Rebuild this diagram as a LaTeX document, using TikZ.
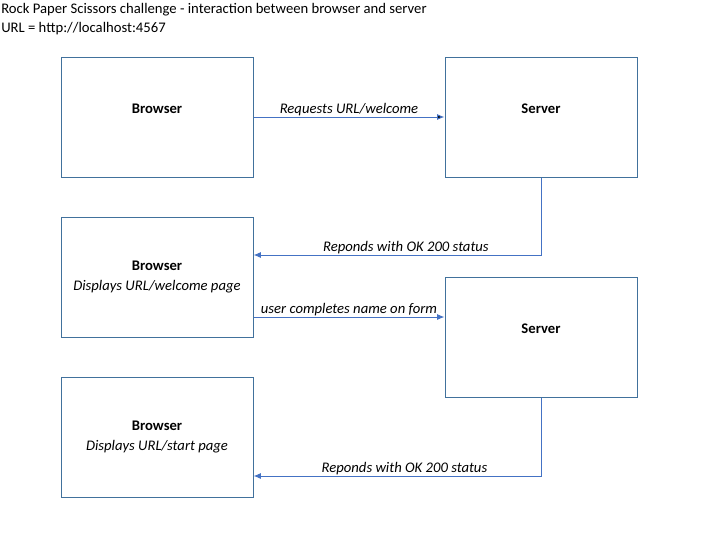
\documentclass[tikz,border=0pt]{standalone}
\usepackage{fontspec}
\setmainfont{Carlito}
\usetikzlibrary{arrows.meta}
\definecolor{boxline}{HTML}{41719C}
\definecolor{arrowline}{HTML}{4472C4}
\begin{document}
\begin{tikzpicture}[x=0.75pt,y=-0.75pt,
    every node/.style={font=\fontsize{11pt}{15pt}\selectfont},
    party/.style={rectangle,draw=boxline,line width=0.75pt,minimum width=144pt,minimum height=90pt,align=center},
    msg/.style={draw=arrowline,line width=0.75pt,-{Latex[length=5.5pt,width=4.5pt]}},
    lbl/.style={above,inner sep=0.5pt,font=\fontsize{11pt}{15pt}\selectfont\itshape}]
            \useasboundingbox (0,0) rectangle (706,557);
            \node[anchor=base west,inner sep=0pt] (title) at (1,13) {Rock Paper Scissors challenge - interaction between browser and server};
            \node[anchor=base west,inner sep=0pt] (url) at (1,32) {URL = http://localhost:4567};

            \node[party] (browserA) at (157,117) {\textbf{Browser}\\[-3pt]~};
            \node[party] (serverA) at (541,117) {\textbf{Server}\\[-3pt]~};
            \node[party] (browserB) at (157,277) {\textbf{Browser}\\\textit{Displays URL/welcome page}};
            \node[party] (serverB) at (541,337) {\textbf{Server}\\[-3pt]~};
            \node[party] (browserC) at (157,437) {\textbf{Browser}\\\textit{Displays URL/start page}};

            \coordinate (turnA) at (serverA.south |- 0,255);
            \coordinate (turnB) at (serverB.south |- 0,476);

            \path [msg] (browserA) edge node[lbl] {Requests URL/welcome} (serverA);
            \draw [msg] (serverA.south) -- (turnA) -- node[lbl,pos=0.47] {Reponds with OK 200 status} (browserB.east |- turnA);
            \draw [msg] (browserB.east |- 0,317) -- node[lbl] {user completes name on form} (serverB.west |- 0,317);
            \draw [msg] (serverB.south) -- (turnB) -- node[lbl,pos=0.475] {Reponds with OK 200 status} (browserC.east |- turnB);
        \end{tikzpicture}
\end{document}
